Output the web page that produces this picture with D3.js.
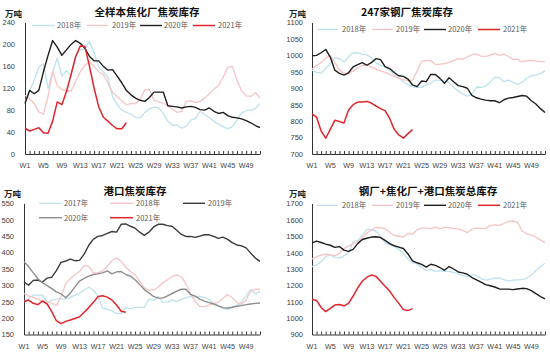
<!DOCTYPE html>
<html>
<head>
<meta charset="utf-8">
<script src="https://cdn.jsdelivr.net/npm/d3@7"></script>
<style>
body { margin: 0; background: #fff; }
svg { display: block; }
</style>
</head>
<body>
<svg id="chart" width="550" height="353"></svg>
<script>
// categories
var weeks = d3.range(1, 53).map(function(i){ return "W" + i; });
var weekLabels = ["W1","W5","W9","W13","W17","W21","W25","W29","W33","W37","W41","W45","W49"];

// 全样本焦化厂焦炭库存
var coking2018 = [95,115,135,158,165,120,150,175,142,152,143,178,190,192,205,185,158,150,140,105,90,80,76,73,67,66,76,82,86,84,74,60,52,53,47,51,62,65,78,72,66,60,54,50,46,50,62,75,79,80,83,92];
var coking2019 = [107,100,92,77,73,105,150,125,118,115,115,132,150,162,168,160,150,145,130,112,105,97,90,92,92,100,117,118,98,95,93,88,82,76,78,96,97,94,96,102,110,118,125,140,158,160,135,115,106,105,112,102];
var coking2020 = [92,116,110,116,150,180,207,195,180,190,200,207,202,193,178,170,170,160,153,154,142,130,116,108,102,98,96,103,113,113,113,88,87,86,84,86,87,85,81,80,84,78,74,76,70,67,66,64,61,57,52,48];
var coking2021 = [47,42,45,48,39,38,60,95,90,114,145,178,197,196,160,120,86,67,60,52,46,46,57];
var cokingTicks = [0,40,80,120,160,200,240];

// 247家钢厂焦炭库存
var steel2018 = [955,948,946,960,975,992,990,980,995,1008,1008,1003,1002,992,978,970,965,955,942,932,920,911,905,903,903,910,915,925,925,922,918,903,892,882,876,882,903,903,906,918,934,932,920,925,918,912,918,930,938,940,945,953];
var steel2019 = [958,970,978,992,1000,978,955,946,947,952,962,970,970,965,958,953,948,942,936,930,926,923,925,952,982,984,984,972,973,975,978,985,990,988,995,1002,1004,998,997,1000,1006,1000,1004,996,988,988,980,984,985,983,981,981];
var steel2020 = [999,1000,1008,1018,995,955,945,940,947,965,972,978,970,978,990,987,966,960,948,938,936,928,910,905,922,920,942,942,930,915,932,920,908,905,900,878,871,867,864,862,862,856,865,870,872,875,878,876,862,852,838,826];
var steel2021 = [822,812,770,748,775,803,799,794,834,850,858,858,860,855,846,838,832,808,775,758,748,762,774];
var steelTicks = [700,750,800,850,900,950,1000,1050,1100];

// 港口焦炭库存
var port2017 = [250,260,270,270,270,248,255,258,258,258,263,270,276,285,294,285,266,230,227,222,214,214,233,228,233,233,233,258,254,266,248,249,255,250,257,262,266,264,266,263,256,244,238,230,226,233,238,248,268,287,273,283];
var port2018 = [275,268,263,257,252,250,246,238,265,305,320,333,342,360,358,338,338,344,358,375,384,373,355,342,332,312,292,285,285,295,307,317,327,332,326,305,275,250,236,235,240,245,248,260,272,262,248,242,255,282,288,288];
var port2019 = [310,300,315,316,310,322,325,345,370,374,380,375,376,395,422,441,449,452,458,464,462,486,487,480,474,462,452,462,478,486,486,482,480,468,455,449,449,446,450,454,454,449,443,447,440,430,423,420,414,398,383,373];
var port2020 = [372,357,338,320,308,299,290,280,274,262,276,295,313,321,328,333,335,338,344,335,341,342,333,328,317,302,287,277,266,261,261,268,275,282,288,288,272,267,258,252,247,243,237,232,231,233,236,238,241,243,245,246];
var port2021 = [250,255,245,241,252,243,220,192,183,190,194,199,204,218,232,248,266,268,264,255,240,221,218];
var portTicks = [150,200,250,300,350,400,450,500,550];

// 钢厂+焦化厂+港口焦炭总库存
var total2018 = [1315,1325,1345,1375,1388,1370,1368,1380,1400,1465,1475,1505,1540,1542,1530,1500,1460,1448,1440,1420,1395,1362,1340,1330,1310,1290,1298,1285,1290,1285,1285,1280,1268,1260,1252,1265,1260,1240,1232,1236,1245,1245,1235,1226,1232,1234,1235,1245,1262,1290,1315,1335];
var total2019 = [1362,1375,1385,1390,1388,1380,1395,1425,1440,1455,1468,1490,1520,1540,1555,1552,1546,1525,1505,1500,1495,1518,1512,1540,1550,1550,1546,1556,1545,1556,1552,1548,1545,1535,1522,1545,1550,1546,1548,1565,1570,1566,1578,1590,1593,1585,1532,1515,1507,1495,1478,1461];
var total2020 = [1460,1470,1462,1452,1445,1432,1437,1415,1408,1420,1455,1480,1488,1495,1497,1492,1475,1455,1442,1434,1425,1392,1350,1338,1328,1312,1329,1322,1309,1292,1315,1300,1282,1276,1268,1248,1234,1220,1205,1198,1190,1178,1177,1177,1174,1178,1182,1180,1168,1150,1132,1118];
var total2021 = [1115,1108,1065,1040,1060,1080,1083,1075,1090,1135,1185,1225,1250,1263,1255,1225,1195,1165,1125,1090,1052,1046,1058];
var totalTicks = [900,1000,1100,1200,1300,1400,1500,1600,1700];

var LIGHTBLUE = "#bde2ee", PINK = "#f6c4c4", BLACK = "#1e1e1e", RED = "#e0262c", GREY = "#8e8e8e", DARK = "#3a3a3a";
var cjk = "'Noto Sans CJK SC', sans-serif";
var latin = "'Liberation Sans', Arial, sans-serif";

var svg = d3.select("#chart");

function drawPanel(p){
  var g = svg.append("g");
  var x = d3.scalePoint().domain(weeks).range([p.x0, p.x1]);
  var y = d3.scaleLinear().domain([p.ticks[0], p.ticks[p.ticks.length - 1]]).range([p.y0, p.y1]);

  // title + unit
  g.append("text").attr("x", p.titleX).attr("y", p.titleY).attr("text-anchor", "middle")
    .style("font-family", cjk).style("font-weight", "bold").style("font-size", "10.5px").style("fill", "#111")
    .text(p.title);
  g.append("text").attr("x", p.unitX).attr("y", p.unitY)
    .style("font-family", cjk).style("font-weight", "bold").style("font-size", "8.5px").style("fill", "#222")
    .text("万吨");

  // y axis
  var ya = g.append("g").attr("transform", "translate(" + p.x0 + ",0)")
    .call(d3.axisLeft(y).tickValues(p.ticks).tickFormat(d3.format("d")).tickSize(0).tickPadding(p.pad));
  ya.select(".domain").attr("stroke", "#333");
  ya.selectAll("text").style("font-family", latin).style("font-size", "7.5px").style("fill", "#404040");

  // x axis: small ticks at every week, labels every 4 weeks
  var xa = g.append("g").attr("transform", "translate(0," + p.y0 + ")")
    .call(d3.axisBottom(x).tickValues(weeks).tickSizeInner(-3).tickSizeOuter(0).tickFormat(""));
  xa.select(".domain").attr("stroke", "#333");
  xa.selectAll(".tick line").attr("stroke", "#333");
  g.selectAll(".wlab").data(weekLabels).enter().append("text")
    .attr("x", function(d){ return x(d); }).attr("y", p.y0 + 14)
    .attr("text-anchor", "middle")
    .style("font-family", latin).style("font-size", "7.2px").style("fill", "#404040")
    .text(function(d){ return d; });

  var line = d3.line().x(function(d, i){ return x(weeks[i]); }).y(function(d){ return y(d); });
  p.series.forEach(function(s){
    g.append("path").datum(s.values).attr("d", line)
      .attr("fill", "none").attr("stroke", s.color).attr("stroke-width", s.width)
      .attr("stroke-linejoin", "round");
  });

  // legend
  p.series.forEach(function(s){
    var L = s.leg;
    g.append("line").attr("x1", L[0]).attr("x2", L[1]).attr("y1", L[3]).attr("y2", L[3])
      .attr("stroke", s.color).attr("stroke-width", s.width);
    g.append("text").attr("x", L[2]).attr("y", L[3] + 2.8)
      .style("font-family", cjk).style("font-size", "7.5px").style("fill", "#595959")
      .text(s.name);
  });
}

drawPanel({
  title: "全样本焦化厂焦炭库存", titleX: 147, titleY: 16, unitX: 5, unitY: 17,
  x0: 25, x1: 260, y0: 154, y1: 22.5, ticks: cokingTicks, pad: 10,
  series: [
    { name: "2018年", values: coking2018, color: LIGHTBLUE, width: 1.3, leg: [32, 55, 57, 25.5] },
    { name: "2019年", values: coking2019, color: PINK, width: 1.3, leg: [87, 108, 112, 25.5] },
    { name: "2020年", values: coking2020, color: BLACK, width: 1.4, leg: [140, 162, 164, 25.5] },
    { name: "2021年", values: coking2021, color: RED, width: 1.5, leg: [193, 215, 218, 25.5] }
  ]
});

drawPanel({
  title: "247家钢厂焦炭库存", titleX: 407, titleY: 16, unitX: 289, unitY: 16.5,
  x0: 312, x1: 545, y0: 154, y1: 22.5, ticks: steelTicks, pad: 9,
  series: [
    { name: "2018年", values: steel2018, color: LIGHTBLUE, width: 1.3, leg: [317, 338, 342, 29.5] },
    { name: "2019年", values: steel2019, color: PINK, width: 1.3, leg: [372, 393, 396, 29.5] },
    { name: "2020年", values: steel2020, color: BLACK, width: 1.4, leg: [424, 446, 448, 29.5] },
    { name: "2021年", values: steel2021, color: RED, width: 1.5, leg: [478, 500, 503, 29.5] }
  ]
});

drawPanel({
  title: "港口焦炭库存", titleX: 135, titleY: 195, unitX: 4, unitY: 196.5,
  x0: 24, x1: 260, y0: 334.5, y1: 203.3, ticks: portTicks, pad: 10,
  series: [
    { name: "2017年", values: port2017, color: LIGHTBLUE, width: 1.3, leg: [39, 62, 64, 203.3] },
    { name: "2018年", values: port2018, color: PINK, width: 1.3, leg: [110, 133, 136, 203.3] },
    { name: "2019年", values: port2019, color: DARK, width: 1.4, leg: [183, 205, 208, 203.3] },
    { name: "2020年", values: port2020, color: GREY, width: 1.4, leg: [39, 62, 64, 217.7] },
    { name: "2021年", values: port2021, color: RED, width: 1.5, leg: [110, 133, 136, 217.7] }
  ]
});

drawPanel({
  title: "钢厂+焦化厂+港口焦炭总库存", titleX: 428, titleY: 195, unitX: 289, unitY: 196.5,
  x0: 312, x1: 545, y0: 334.5, y1: 203.5, ticks: totalTicks, pad: 9,
  series: [
    { name: "2018年", values: total2018, color: LIGHTBLUE, width: 1.3, leg: [317, 338, 342, 205.3] },
    { name: "2019年", values: total2019, color: PINK, width: 1.3, leg: [372, 393, 396, 205.3] },
    { name: "2020年", values: total2020, color: BLACK, width: 1.4, leg: [424, 446, 448, 205.3] },
    { name: "2021年", values: total2021, color: RED, width: 1.5, leg: [478, 500, 503, 205.3] }
  ]
});
</script>
</body>
</html>
